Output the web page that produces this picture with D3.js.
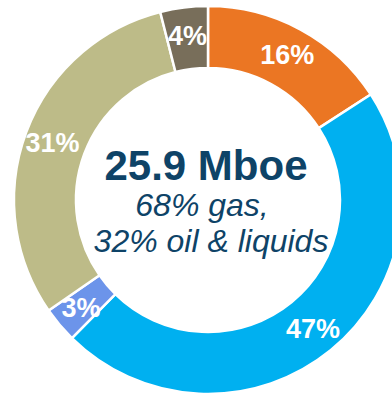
<!DOCTYPE html>
<html>
<head>
<meta charset="utf-8">
<script src="https://cdn.jsdelivr.net/npm/d3@7/dist/d3.min.js"></script>
<style>
  html, body { margin: 0; padding: 0; background: #ffffff; overflow: hidden; }
  svg { display: block; }
</style>
</head>
<body>
<svg id="chart" width="392" height="397"></svg>
<script>
// Production mix by segment (percent of total), clockwise from 12 o'clock
const segments = ["Segment A", "Segment B", "Segment C", "Segment D", "Segment E"];
const shares = [16, 47, 3, 31, 4];
const segmentColors = ["#EB7623", "#00B0F0", "#6C94EA", "#BDBB88", "#786E5A"];

// Centre caption
const headline = "25.9 Mboe";
const captionLines = ["68% gas,", "32% oil & liquids"];

const svg = d3.select("#chart");
const cx = 208, cy = 200;
const outerR = 194, innerR = 132;

const g = svg.append("g").attr("transform", `translate(${cx},${cy})`);

const pie = d3.pie().sort(null).value(d => d.value);
const arcs = pie(segments.map((s, i) => ({ name: s, value: shares[i], color: segmentColors[i] })));

const arc = d3.arc().innerRadius(innerR).outerRadius(outerR);
const labelArc = d3.arc().innerRadius(innerR + 3).outerRadius(outerR + 3);

g.selectAll("path.slice")
  .data(arcs)
  .join("path")
  .attr("class", "slice")
  .attr("d", arc)
  .attr("fill", d => d.data.color)
  .attr("stroke", "#ffffff")
  .attr("stroke-width", 2.5)
  .attr("stroke-linejoin", "miter");

g.selectAll("text.pct")
  .data(arcs)
  .join("text")
  .attr("class", "pct")
  .attr("transform", d => `translate(${labelArc.centroid(d)})`)
  .attr("text-anchor", "middle")
  .attr("dy", "0.36em")
  .attr("fill", "#ffffff")
  .attr("font-family", "Liberation Sans, Arial, sans-serif")
  .attr("font-weight", "bold")
  .attr("font-size", 27)
  .text(d => d.data.value + "%");

// Centre text
const navy = "#0E4367";
svg.append("text")
  .attr("x", 206).attr("y", 180)
  .attr("text-anchor", "middle")
  .attr("fill", navy)
  .attr("font-family", "Liberation Sans, Arial, sans-serif")
  .attr("font-weight", "bold")
  .attr("font-size", 42)
  .text(headline);

const captionX = [202, 211];
const captionY = [216, 252];
svg.selectAll("text.caption")
  .data(captionLines)
  .join("text")
  .attr("class", "caption")
  .attr("x", (d, i) => captionX[i])
  .attr("y", (d, i) => captionY[i])
  .attr("text-anchor", "middle")
  .attr("fill", navy)
  .attr("font-family", "Liberation Sans, Arial, sans-serif")
  .attr("font-style", "italic")
  .attr("font-size", 32)
  .text(d => d);
</script>
</body>
</html>
